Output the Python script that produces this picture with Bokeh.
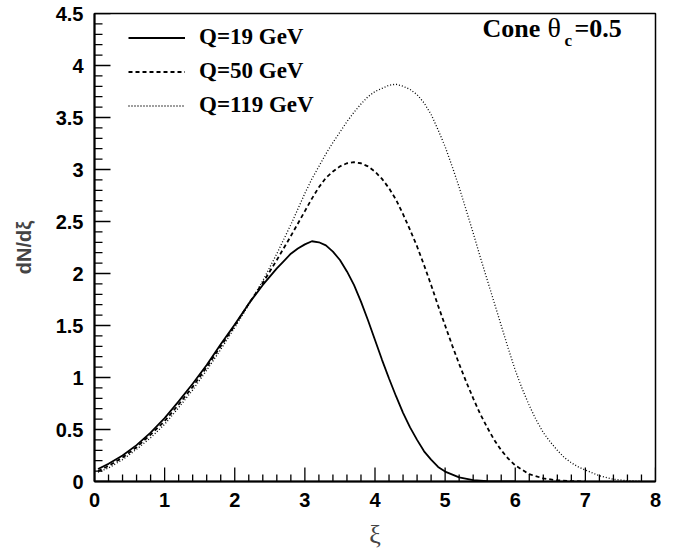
from bokeh.plotting import figure
from bokeh.models import Range1d, SingleIntervalTicker, Legend, LegendItem, Label
from bokeh.embed import file_html
from bokeh.resources import INLINE

# ---- data ----
xi_q19 = [0.05, 0.2, 0.4, 0.6, 0.8, 1.0, 1.2, 1.4, 1.6, 1.8, 2.0, 2.2, 2.4, 2.5, 2.6, 2.7, 2.8,
          2.9, 3.0, 3.1, 3.2, 3.3, 3.4, 3.5, 3.6, 3.7, 3.8, 3.9, 4.0, 4.1, 4.2, 4.3, 4.4, 4.5,
          4.6, 4.7, 4.8, 4.9, 5.0, 5.2, 5.4, 5.6, 5.8, 6.0]
dn_q19 = [0.12, 0.17, 0.25, 0.35, 0.47, 0.61, 0.77, 0.94, 1.12, 1.32, 1.51, 1.71, 1.89, 1.97, 2.05,
          2.12, 2.19, 2.24, 2.28, 2.31, 2.30, 2.27, 2.21, 2.13, 2.02, 1.89, 1.73, 1.55, 1.36, 1.17,
          0.99, 0.82, 0.66, 0.52, 0.40, 0.29, 0.21, 0.14, 0.095, 0.04, 0.013, 0.004, 0.001, 0.0]

xi_q50 = [0.05, 0.2, 0.4, 0.6, 0.8, 1.0, 1.2, 1.4, 1.6, 1.8, 2.0, 2.2, 2.4, 2.6, 2.8, 3.0, 3.1,
          3.2, 3.3, 3.4, 3.5, 3.6, 3.7, 3.8, 3.9, 4.0, 4.1, 4.2, 4.3, 4.4, 4.5, 4.6, 4.7, 4.8,
          4.9, 5.0, 5.1, 5.2, 5.3, 5.4, 5.5, 5.6, 5.7, 5.8, 5.9, 6.0, 6.2, 6.4, 6.6, 6.8, 7.0]
dn_q50 = [0.10, 0.15, 0.23, 0.33, 0.45, 0.58, 0.74, 0.91, 1.10, 1.30, 1.50, 1.71, 1.91, 2.13, 2.36,
          2.60, 2.72, 2.83, 2.92, 2.98, 3.03, 3.06, 3.07, 3.06, 3.03, 2.98, 2.91, 2.82, 2.71, 2.57,
          2.42, 2.26, 2.08, 1.89, 1.69, 1.50, 1.31, 1.13, 0.96, 0.80, 0.65, 0.52, 0.40, 0.30, 0.22,
          0.155, 0.07, 0.03, 0.011, 0.004, 0.001]

xi_q119 = [0.05, 0.2, 0.4, 0.6, 0.8, 1.0, 1.2, 1.4, 1.6, 1.8, 2.0, 2.2, 2.4, 2.6, 2.8, 3.0, 3.1,
           3.2, 3.3, 3.4, 3.5, 3.6, 3.7, 3.8, 3.9, 4.0, 4.1, 4.2, 4.3, 4.4, 4.5, 4.6, 4.7, 4.8,
           4.9, 5.0, 5.1, 5.2, 5.3, 5.4, 5.5, 5.6, 5.7, 5.8, 5.9, 6.0, 6.1, 6.2, 6.3, 6.4, 6.5,
           6.6, 6.7, 6.8, 6.9, 7.0, 7.2, 7.4, 7.6, 7.8]
dn_q119 = [0.09, 0.13, 0.21, 0.31, 0.42, 0.55, 0.71, 0.88, 1.07, 1.27, 1.48, 1.70, 1.93, 2.19, 2.47,
           2.77, 2.91, 3.03, 3.15, 3.26, 3.36, 3.46, 3.55, 3.63, 3.70, 3.75, 3.78, 3.81, 3.82, 3.80,
           3.77, 3.72, 3.64, 3.53, 3.38, 3.22, 3.03, 2.83, 2.61, 2.39, 2.16, 1.94, 1.72, 1.50, 1.28,
           1.07, 0.89, 0.73, 0.59, 0.47, 0.38, 0.30, 0.23, 0.18, 0.14, 0.11, 0.055, 0.022, 0.007,
           0.002]

series_labels = ["Q=19 GeV", "Q=50 GeV", "Q=119 GeV"]
x_ticks = [0, 1, 2, 3, 4, 5, 6, 7, 8]
x_tick_labels = ["0", "1", "2", "3", "4", "5", "6", "7", "8"]
y_ticks = [0, 0.5, 1, 1.5, 2, 2.5, 3, 3.5, 4, 4.5]
y_tick_labels = ["0", "0.5", "1", "1.5", "2", "2.5", "3", "3.5", "4", "4.5"]
x_minor_ticks = [round(i * 0.2, 2) for i in range(41) if i % 5]
y_minor_ticks = [round(i * 0.1, 2) for i in range(46) if i % 5]

# tick sizes (pixels) converted to data units
FRAME_W, FRAME_H = 561, 468
X0, X1, Y0, Y1 = 0, 8, 0, 4.5
px_x = (X1 - X0) / FRAME_W
px_y = (Y1 - Y0) / FRAME_H

p = figure(frame_width=FRAME_W, frame_height=FRAME_H,
           x_range=Range1d(X0, X1), y_range=Range1d(Y0, Y1),
           output_backend="svg", toolbar_location=None,
           min_border_left=94, min_border_top=13, min_border_right=10, min_border_bottom=61)

p.xgrid.visible = False
p.ygrid.visible = False
p.outline_line_color = "black"
p.outline_line_width = 1.5
p.background_fill_color = "white"
p.border_fill_color = "white"

p.xaxis.ticker = SingleIntervalTicker(interval=1, num_minor_ticks=5)
p.yaxis.ticker = SingleIntervalTicker(interval=0.5, num_minor_ticks=5)
p.xaxis.major_label_overrides = {v: l for v, l in zip(x_ticks, x_tick_labels)}
p.yaxis.major_label_overrides = {v: l for v, l in zip(y_ticks, y_tick_labels)}

for ax in (p.xaxis, p.yaxis):
    ax.axis_line_color = "black"
    ax.axis_line_width = 2
    ax.major_tick_in = 0
    ax.major_tick_out = 0
    ax.minor_tick_in = 0
    ax.minor_tick_out = 0
    ax.major_label_text_font = "Liberation Sans"
    ax.major_label_text_font_style = "bold"
    ax.major_label_text_font_size = "20px"
    ax.major_label_text_color = "black"

p.xaxis.major_label_standoff = 11
p.yaxis.major_label_standoff = 11

p.xaxis.axis_label = "ξ"
p.xaxis.axis_label_text_font = "Liberation Serif"
p.xaxis.axis_label_text_font_style = "normal"
p.xaxis.axis_label_text_font_size = "26px"
p.xaxis.axis_label_standoff = 10

p.yaxis.axis_label = "dN/dξ"
p.yaxis.axis_label_text_font = "Liberation Sans"
p.yaxis.axis_label_text_font_style = "bold"
p.yaxis.axis_label_text_font_size = "20px"
p.yaxis.axis_label_standoff = 18

r1 = p.line(xi_q19, dn_q19, line_color="black", line_width=1.8)
r2 = p.line(xi_q50, dn_q50, line_color="black", line_width=1.8, line_dash="4 3")
r3 = p.line(xi_q119, dn_q119, line_color="black", line_width=1.3, line_dash="1 2")

# tick marks inside the frame (ROOT style): one NaN-separated polyline, drawn after the curves
nan = float("nan")
tx, ty = [], []
for t in x_ticks:
    tx += [t, t, nan]; ty += [Y0, Y0 + 14 * px_y, nan]
for t in x_minor_ticks:
    tx += [t, t, nan]; ty += [Y0, Y0 + 7 * px_y, nan]
for t in y_ticks:
    tx += [X0, X0 + 16 * px_x, nan]; ty += [t, t, nan]
for t in y_minor_ticks:
    tx += [X0, X0 + 8 * px_x, nan]; ty += [t, t, nan]
p.line(tx, ty, line_color="black", line_width=1.3)

legend = Legend(items=[LegendItem(label=series_labels[0], renderers=[r1]),
                       LegendItem(label=series_labels[1], renderers=[r2]),
                       LegendItem(label=series_labels[2], renderers=[r3])],
                location=(34, 363), margin=0, padding=0,
                glyph_width=57, glyph_height=25, label_height=25, spacing=8,
                label_standoff=14,
                label_text_font="Liberation Serif", label_text_font_style="bold",
                label_text_font_size="23px", label_text_color="black",
                border_line_color=None, background_fill_alpha=0)
p.add_layout(legend)

tfont = dict(text_font="Liberation Serif", text_font_style="bold", text_color="black",
             x_units="screen", y_units="screen")
p.add_layout(Label(x=388, y=439, text="Cone", text_font_size="26px", **tfont))
p.add_layout(Label(x=453, y=439, text="θ", text_font_size="28px",
                   text_font="Liberation Serif", text_color="black",
                   x_units="screen", y_units="screen"))
p.add_layout(Label(x=470, y=432, text="c", text_font_size="17px", **tfont))
p.add_layout(Label(x=480, y=439, text="=0.5", text_font_size="26px", **tfont))

open("out.html", "w").write(file_html(p, INLINE))
